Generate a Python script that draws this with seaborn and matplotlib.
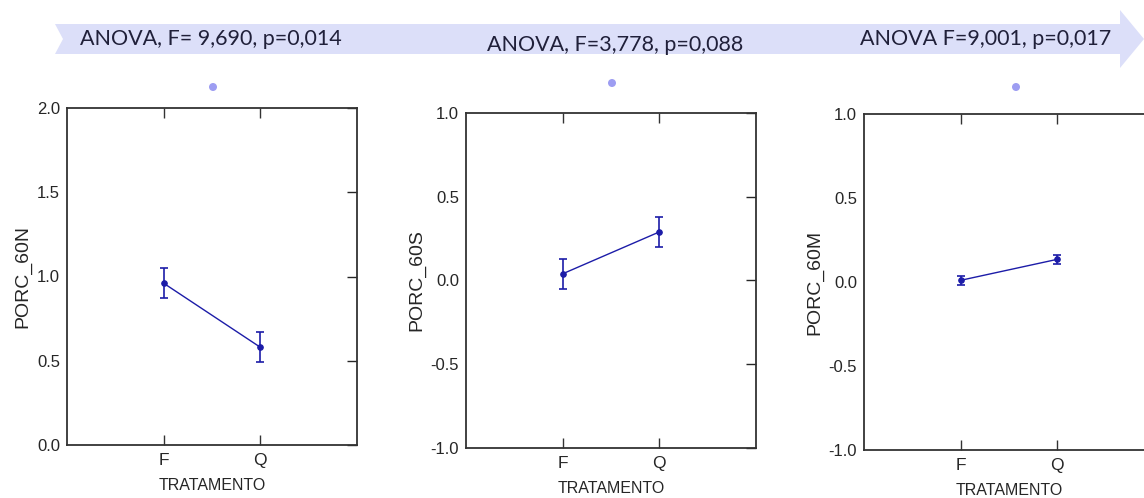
import numpy as np
import pandas as pd
import matplotlib
matplotlib.use('Agg')
import matplotlib.pyplot as plt
import seaborn as sns
from matplotlib.patches import Polygon, Ellipse

# dados
tratamentos = ['F', 'Q']
variaveis = ['PORC_60N', 'PORC_60S', 'PORC_60M']
medias = {
    'PORC_60N': [0.96, 0.58],
    'PORC_60S': [0.04, 0.29],
    'PORC_60M': [0.01, 0.135],
}
erros = {
    'PORC_60N': [0.088, 0.088],
    'PORC_60S': [0.09, 0.09],
    'PORC_60M': [0.028, 0.027],
}
anova_txt = ['ANOVA, F= 9,690, p=0,014', 'ANOVA, F=3,778, p=0,088', 'ANOVA F=9,001, p=0,017']
limites_y = [(0.0, 2.0), (-1.0, 1.0), (-1.0, 1.0)]

sns.set_style('white')
plt.rcParams['font.family'] = ['Liberation Sans', 'DejaVu Sans']

cor_linha = '#1c1ca8'
cor_banner = '#dcdff9'

fig = plt.figure(figsize=(11.44, 4.98), dpi=100)
W, H = 1144, 498

def fx(px):
    return px / W

def fy(py):
    return 1 - py / H

# faixa/seta no topo
seta = [(55, 24), (1120, 24), (1120, 10), (1144, 39), (1120, 68), (1120, 54), (55, 54), (63, 39)]
fig.patches.append(Polygon([(fx(x), fy(y)) for x, y in seta], closed=True,
                           transform=fig.transFigure, facecolor=cor_banner,
                           edgecolor='none', zorder=0))
for txt, (tx, ty) in zip(anova_txt, [(80, 39), (487, 45), (860, 39)]):
    fig.text(fx(tx), fy(ty), txt, ha='left', va='center', fontsize=15.5,
             color='#20203a', family=['Lato', 'DejaVu Sans'])
for cx, cy in [(213, 87), (612, 83), (1016, 87)]:
    fig.patches.append(Ellipse((fx(cx), fy(cy)), width=8 / W, height=8 / H,
                               transform=fig.transFigure, facecolor='#9d9df2', edgecolor='none'))

posicoes = [(67, 108, 445), (466, 113, 448), (864, 114, 450)]

for var, (lx, ty, by), ylim in zip(variaveis, posicoes, limites_y):
    ax = fig.add_axes([fx(lx), fy(by), 290 / W, (by - ty) / H])
    df = pd.DataFrame({'TRATAMENTO': tratamentos, var: medias[var]})
    sns.pointplot(data=df, x='TRATAMENTO', y=var, errorbar=None, color=cor_linha,
                  markersize=4, linewidth=1, ax=ax)
    ax.errorbar(range(len(tratamentos)), medias[var], yerr=erros[var], fmt='none',
                ecolor=cor_linha, elinewidth=1.2, capsize=3, capthick=1.2)
    ax.set_xlim(-1, 2)
    ax.set_ylim(*ylim)
    ticks = np.arange(ylim[0], ylim[1] + 0.01, 0.5)
    ax.set_yticks(ticks)
    ax.set_yticklabels([f'{v:.1f}' for v in ticks])
    ax.tick_params(axis='x', direction='in', length=7, width=1, top=True, bottom=True,
                   labelsize=12.5, color='#333333', pad=6)
    ax.tick_params(axis='y', direction='in', length=7, width=1, left=False, right=True,
                   labelsize=12, pad=5)
    ax.set_xlabel('TRATAMENTO', fontsize=11.5, labelpad=7)
    ax.set_ylabel(var, fontsize=14, labelpad=4)
    for sp in ax.spines.values():
        sp.set_visible(True)
        sp.set_color('#333333')
        sp.set_linewidth(1.3)
    ax.grid(False)

fig.savefig('out.png', dpi=100)
